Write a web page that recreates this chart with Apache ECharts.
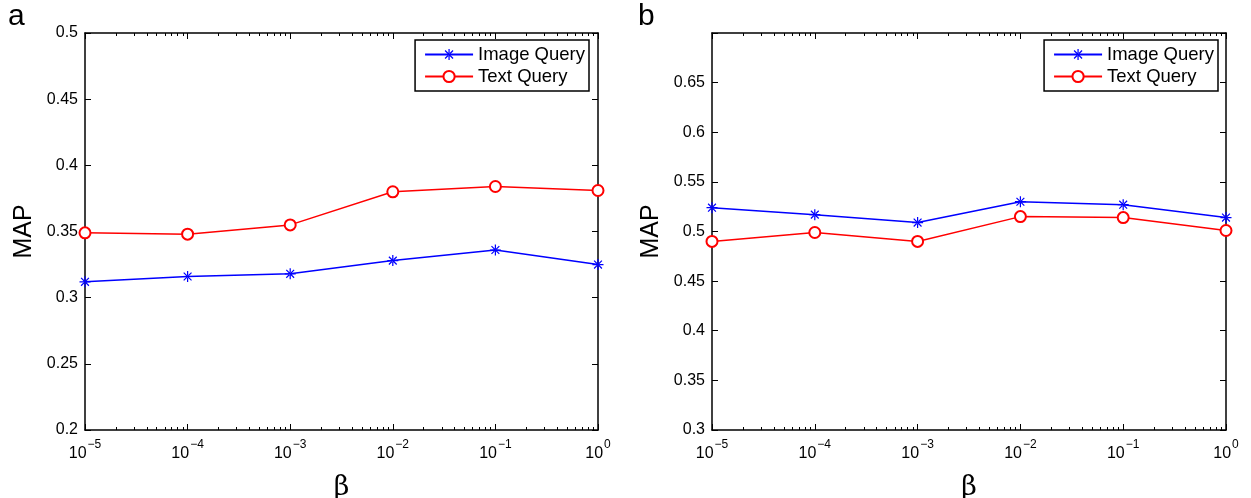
<!doctype html>
<html>
<head>
  <meta charset="utf-8">
  <title>MAP vs beta</title>
  <script src="https://cdn.jsdelivr.net/npm/echarts@6/dist/echarts.min.js"></script>
  <style>
    html, body { margin: 0; padding: 0; background: #fff; }
    #chart { width: 1251px; height: 498px; }
  </style>
</head>
<body>
  <div id="chart"></div>
  <script>
    // beta values (x axis, log scale)
    var betas = [1e-5, 1e-4, 1e-3, 1e-2, 1e-1, 1];

    // panel a
    var imageA = [0.312, 0.316, 0.318, 0.328, 0.336, 0.325];
    var textA = [0.349, 0.348, 0.355, 0.380, 0.384, 0.381];
    // panel b
    var imageB = [0.524, 0.517, 0.509, 0.530, 0.527, 0.514];
    var textB = [0.490, 0.499, 0.490, 0.515, 0.514, 0.501];

    var seriesNames = ['Image Query', 'Text Query'];

    // minor ticks 2..9 in every decade
    var minorTicks = [];
    for (var e = -5; e < 0; e++) {
      for (var k = 2; k <= 9; k++) minorTicks.push(k * Math.pow(10, e));
    }

    var starPath = 'path://M-0.5,-4.5L0.5,-4.5L0.5,4.5L-0.5,4.5Z' +
      'M-4.5,-0.5L4.5,-0.5L4.5,0.5L-4.5,0.5Z' +
      'M-2.85,-3.55L3.55,2.85L2.85,3.55L-3.55,-2.85Z' +
      'M-2.85,3.55L3.55,-2.85L2.85,-3.55L-3.55,2.85Z';

    var font = 'Liberation Sans, Arial, sans-serif';
    var black = '#000';

    function pair(v, i) { return [betas[i], v]; }

    function xAxes(gridIndex) {
      var base = {
        type: 'log', logBase: 10, min: 1e-5, max: 1, gridIndex: gridIndex,
        axisLine: { lineStyle: { color: black, width: 1.5 } },
        splitLine: { show: false }
      };
      return [
        Object.assign({}, base, {
          position: 'bottom',
          name: 'β', nameLocation: 'middle', nameGap: 44,
          nameTextStyle: { fontFamily: 'DejaVu Serif, serif', fontSize: 27, color: black },
          axisTick: { inside: true, length: 6, lineStyle: { color: black, width: 1 } },
          axisLabel: {
            margin: 8, color: black,
            formatter: function (v) {
              var ex = Math.round(Math.log10(v));
              return '{b|10}{s|' + (ex < 0 ? '−' + (-ex) : ex) + '}';
            },
            rich: {
              b: { fontFamily: font, fontSize: 16, color: black, padding: [8, 0, 0, 0] },
              s: { fontFamily: font, fontSize: 12, color: black, padding: [0, 0, 10, 1] }
            }
          }
        }),
        Object.assign({}, base, {
          position: 'top',
          axisTick: { inside: true, length: 6, lineStyle: { color: black, width: 1 } },
          axisLabel: { show: false }
        }),
        Object.assign({}, base, {
          position: 'bottom',
          axisLine: { show: false },
          axisTick: { inside: true, length: 3, customValues: minorTicks, lineStyle: { color: black, width: 1 } },
          axisLabel: { show: false }
        }),
        Object.assign({}, base, {
          position: 'top',
          axisLine: { show: false },
          axisTick: { inside: true, length: 3, customValues: minorTicks, lineStyle: { color: black, width: 1 } },
          axisLabel: { show: false }
        })
      ];
    }

    function yAxes(gridIndex, min, max) {
      var base = {
        type: 'value', min: min, max: max, interval: 0.05, gridIndex: gridIndex,
        axisLine: { show: true, lineStyle: { color: black, width: 1.5 } },
        axisTick: { show: true, inside: true, length: 6, lineStyle: { color: black, width: 1 } },
        splitLine: { show: false }
      };
      return [
        Object.assign({}, base, {
          position: 'left',
          name: 'MAP', nameLocation: 'middle', nameGap: 48,
          nameTextStyle: { fontFamily: font, fontSize: 25, color: black },
          axisLabel: {
            fontFamily: font, fontSize: 16, color: black, margin: 7,
            formatter: function (v) {
              if (v > 0.699 && max > 0.6) return '';
              return String(+v.toFixed(2));
            }
          }
        }),
        Object.assign({}, base, { position: 'right', axisLabel: { show: false } })
      ];
    }

    function lineSeries(name, data, xi, yi, color, isStar) {
      return {
        type: 'line', name: name, data: data.map(pair),
        xAxisIndex: xi, yAxisIndex: yi,
        symbol: isStar ? starPath : 'emptyCircle',
        symbolSize: isStar ? 11 : 11,
        showAllSymbol: true,
        lineStyle: { color: color, width: 1.5 },
        itemStyle: isStar ? { color: color } : { color: color, borderColor: color, borderWidth: 1.3 },
        emphasis: { disabled: true },
        animation: false
      };
    }

    function legend(right) {
      return {
        data: seriesNames, orient: 'vertical', right: right, top: 40,
        backgroundColor: '#fff', borderColor: black, borderWidth: 1.5,
        padding: [5, 4, 5, 9], itemGap: 3, itemWidth: 48, itemHeight: 14,
        textStyle: { fontFamily: font, fontSize: 18.5, color: black },
        selectedMode: false
      };
    }

    var legA = legend(662); legA.id = 'la';
    var legB = legend(33); legB.id = 'lb';

    var option = {
      backgroundColor: '#fff',
      animation: false,
      grid: [
        { left: 85, top: 33, width: 513, height: 397, outerBoundsMode: 'none', containLabel: false },
        { left: 712, top: 33, width: 514, height: 397, outerBoundsMode: 'none', containLabel: false }
      ],
      xAxis: xAxes(0).concat(xAxes(1)),
      yAxis: yAxes(0, 0.2, 0.5).concat(yAxes(1, 0.3, 0.7)),
      legend: [legA, legB],
      graphic: [
        { type: 'text', left: 8, top: 2, style: { text: 'a', fontFamily: font, fontSize: 30, fill: black } },
        { type: 'text', left: 638, top: 2, style: { text: 'b', fontFamily: font, fontSize: 30, fill: black } }
      ],
      series: [
        lineSeries(seriesNames[0], imageA, 0, 0, '#0000ff', true),
        lineSeries(seriesNames[1], textA, 0, 0, '#ff0000', false),
        lineSeries(seriesNames[0], imageB, 4, 2, '#0000ff', true),
        lineSeries(seriesNames[1], textB, 4, 2, '#ff0000', false)
      ]
    };

    var chart = echarts.init(document.getElementById('chart'), null, { renderer: 'canvas' });
    chart.setOption(option);
  </script>
</body>
</html>
